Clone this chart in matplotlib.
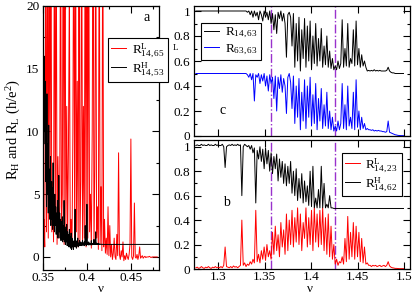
import numpy as np
import matplotlib
matplotlib.use('Agg')
import matplotlib.pyplot as plt
from matplotlib.ticker import MultipleLocator, FuncFormatter

plt.rcParams['font.family'] = ['Liberation Serif', 'DejaVu Serif']
plt.rcParams['mathtext.fontset'] = 'custom'
plt.rcParams['mathtext.rm'] = 'Liberation Serif'
plt.rcParams['mathtext.it'] = 'Liberation Serif:italic'
plt.rcParams['mathtext.bf'] = 'Liberation Serif:bold'

# ---------------- panel a data ----------------
nu_a_start, nu_a_step = 0.350, 0.001
rl_14_65 = [
    1.0, 3.0, 0.8, 25, 2.0, 30, 1.5, 28, 3.0, 30,
    2.0, 6.0, 1.2, 30, 2.5, 30, 1.0, 8.0, 1.5, 4.0,
    30, 2.0, 5.0, 30, 1.0, 30, 2.0, 12.0, 1.5, 9.0,
    22, 1.0, 3.0, 0.8, 10, 30, 1.5, 30, 2.0, 14,
    0.8, 30, 1.2, 6.0, 30, 1.0, 12, 1.5, 30, 0.8,
    30, 1.5, 30, 2.0, 5.0, 0.7, 10, 30, 1.0, 7.0,
    30, 1.5, 4.0, 0.6, 30, 1.0, 5.6, 0.5, 30, 0.8,
    3.0, 0.3, 1.5, 0.2, 4.0, 0.1, 2.5, 0.0, 1.0, -0.2,
    0.3, 1.5, 0.0, -0.2, 1.8, 0.1, 8.3, 0.2, -0.2, 0.5,
    0.0, 1.2, -0.3, 0.1, -0.2, 0.3, 0.0, -0.2, 0.2, 1.0,
    9.4, 0.0, -0.2, 0.1, 4.3, 0.0, -0.1, 0.2, -0.2, 0.1,
    0.8, -0.1, 0.0, 0.1, -0.1, 0.0, 0.05, -0.05, 0.0, 0.0,
    0.0, 0.05, 0.0, -0.05, 0.0, 0.0, 0.0, 0.0, 0.0, 0.0,
    0.0,
]
nu_h_start, nu_h_step = 0.350, 0.0005
rh_14_53 = [
    12, 17.5, 9, 16, 10, 14, 6, 11, 4, 13,
    5, 9, 3.5, 10.5, 4, 7, 3, 8, 2.5, 6,
    3, 5.5, 2.2, 7.5, 2.5, 4.5, 2, 5, 2.5, 4,
    1.8, 3.5, 2, 4.5, 1.5, 3, 6.5, 2, 3.5, 1.5,
    3, 1.3, 2.8, 1.5, 3.2, 1.2, 2.5, 1.4, 4.5, 1.2,
    2.4, 1.0, 2.2, 1.2, 2.6, 0.9, 2.0, 1.1, 1.8, 0.8,
    2.2, 0.8, 1.6, 0.7, 1.9, 0.6, 1.5, 0.8, 1.3, 0.6,
    1.2, 0.8, 1.4, 3.8, 0.8, 1.3, 0.7, 1.2, 0.9, 1.5,
    0.8, 1.1, 0.9, 1.3, 0.9, 1.0, 1.2, 0.9, 1.1, 1.0,
    1.3, 0.9, 1.1, 1.0, 1.2, 0.9, 2.5, 1.0, 1.1, 0.9,
    4.2, 1.0, 1.1, 0.95, 1.2, 1.0, 1.1, 0.95, 1.05, 1.0,
    1.3, 0.95, 1.05, 1.0, 1.1, 1.0, 1.4, 1.0, 1.05, 1.0,
    2.0, 1.0, 1.1, 1.0, 1.05, 1.0, 1.1, 1.0, 1.05, 1.0,
    1.0, 1.02, 1.0, 1.0, 1.02, 1.0, 1.0, 1.0, 1.0, 1.0,
    1.0,
]
nu_h_tail = [0.482]
rh_tail = [1.0]

# ---------------- panels b, c data ----------------
nu_r_start, nu_r_step = 1.276, 0.0015
r_14_63 = [
    1.0, 1.0, 1.0, 1.0, 1.0, 1.0, 1.0, 1.0, 1.0, 1.0,
    1.0, 1.0, 1.0, 1.0, 1.0, 1.0, 1.0, 1.0, 1.0, 1.0,
    1.0, 1.0, 1.0, 1.0, 1.0, 1.0, 1.0, 1.0, 1.0, 1.0,
    1.0, 1.0, 1.0, 1.0, 1.0, 1.0, 1.0, 0.99, 1.0, 0.97,
    1.0, 0.95, 1.0, 0.96, 0.99, 0.93, 1.0, 0.97, 0.92, 1.0,
    0.95, 0.99, 0.93, 1.0, 0.9, 0.98, 0.85, 0.97, 0.82, 0.99,
    0.94, 1.0, 0.92, 0.98, 0.9, 0.63, 0.97, 0.99, 0.95, 0.72,
    0.98, 0.55, 0.9, 0.6, 0.95, 0.52, 0.85, 0.62, 0.94, 0.55,
    0.88, 0.6, 0.92, 0.53, 0.8, 0.58, 0.9, 0.56, 0.78, 0.6,
    0.86, 0.55, 0.72, 0.57, 0.8, 0.55, 0.68, 0.54, 0.62, 0.53,
    0.56, 0.53, 0.6, 0.54, 0.58, 0.93, 0.55, 0.7, 0.56, 0.9,
    0.55, 0.62, 0.58, 0.85, 0.56, 0.92, 0.57, 0.7, 0.55, 0.65,
    0.56, 0.6, 0.55, 0.52, 0.525, 0.52, 0.525, 0.52, 0.53, 0.52,
    0.525, 0.52, 0.525, 0.52, 0.52, 0.52, 0.52, 0.525, 0.55, 0.52,
    0.51, 0.505, 0.505, 0.5, 0.5, 0.5, 0.5, 0.5, 0.5, 0.5,
]
r_63_63 = [
    0.5, 0.5, 0.5, 0.5, 0.5, 0.5, 0.5, 0.5, 0.5, 0.5,
    0.5, 0.5, 0.5, 0.5, 0.5, 0.5, 0.5, 0.5, 0.5, 0.5,
    0.5, 0.5, 0.5, 0.5, 0.5, 0.5, 0.5, 0.5, 0.5, 0.5,
    0.5, 0.5, 0.5, 0.5, 0.5, 0.5, 0.5, 0.49, 0.47, 0.5,
    0.45, 0.5, 0.28, 0.49, 0.47, 0.5, 0.42, 0.49, 0.44, 0.5,
    0.4, 0.48, 0.36, 0.49, 0.42, 0.47, 0.3, 0.48, 0.2, 0.47,
    0.38, 0.49, 0.35, 0.46, 0.4, 0.18, 0.47, 0.5, 0.43, 0.22,
    0.48, 0.1, 0.4, 0.15, 0.46, 0.05, 0.35, 0.12, 0.45, 0.06,
    0.4, 0.15, 0.47, 0.08, 0.33, 0.1, 0.42, 0.05, 0.3, 0.12,
    0.38, 0.06, 0.25, 0.08, 0.35, 0.06, 0.2, 0.05, 0.15, 0.04,
    0.08, 0.04, 0.12, 0.05, 0.1, 0.42, 0.06, 0.25, 0.05, 0.4,
    0.08, 0.15, 0.06, 0.35, 0.05, 0.45, 0.07, 0.2, 0.05, 0.15,
    0.06, 0.1, 0.05, 0.06, 0.05, 0.05, 0.045, 0.05, 0.04, 0.045,
    0.04, 0.045, 0.04, 0.04, 0.035, 0.035, 0.03, 0.035, 0.12, 0.03,
    0.025, 0.02, 0.015, 0.01, 0.008, 0.005, 0.004, 0.003, 0.003, 0.003,
]
rl_14_23 = [
    0.01, 0.015, 0.005, 0.01, 0.02, 0.01, 0.005, 0.015, 0.01, 0.02,
    0.01, 0.005, 0.015, 0.01, 0.02, 0.01, 0.015, 0.01, 0.02, 0.01,
    0.03, 0.18, 0.02, 0.015, 0.01, 0.02, 0.01, 0.025, 0.015, 0.02,
    0.01, 0.02, 0.03, 0.4, 0.03, 0.05, 0.02, 0.04, 0.03, 0.06,
    0.04, 0.08, 0.05, 0.48, 0.06, 0.12, 0.05, 0.15, 0.08, 0.18,
    0.07, 0.2, 0.1, 0.15, 0.08, 0.3, 0.12, 0.35, 0.15, 0.28,
    0.1, 0.38, 0.18, 0.32, 0.12, 0.45, 0.15, 0.4, 0.2, 0.48,
    0.18, 0.42, 0.22, 0.5, 0.2, 0.45, 0.15, 0.38, 0.25, 0.5,
    0.18, 0.42, 0.2, 0.48, 0.15, 0.5, 0.22, 0.45, 0.18, 0.48,
    0.2, 0.5, 0.15, 0.42, 0.12, 0.45, 0.1, 0.35, 0.08, 0.2,
    0.04, 0.08, 0.03, 0.06, 0.05, 0.1, 0.04, 0.25, 0.06, 0.43,
    0.08, 0.3, 0.1, 0.38, 0.08, 0.35, 0.1, 0.3, 0.06, 0.25,
    0.05, 0.18, 0.04, 0.05, 0.03, 0.03, 0.02, 0.03, 0.025, 0.03,
    0.02, 0.025, 0.03, 0.02, 0.025, 0.03, 0.02, 0.03, 0.06, 0.025,
    0.015, 0.01, 0.008, 0.005, 0.005, 0.004, 0.003, 0.003, 0.003, 0.003,
]
rh_14_62 = [
    1.01, 1.015, 1.01, 1.01, 1.02, 1.01, 1.015, 1.01, 1.01, 1.02,
    1.01, 1.015, 1.01, 1.01, 1.02, 1.01, 1.015, 1.01, 1.01, 1.02,
    1.0, 0.83, 1.0, 1.01, 1.015, 1.01, 1.02, 1.01, 1.015, 1.01,
    1.02, 1.01, 1.015, 0.6, 1.0, 1.02, 1.01, 1.0, 1.01, 0.98,
    1.01, 0.95, 0.99, 0.54, 0.97, 0.9, 1.0, 0.88, 0.98, 0.82,
    0.99, 0.86, 0.97, 0.8, 0.95, 0.78, 0.92, 0.82, 0.94, 0.72,
    0.9, 0.75, 0.88, 0.7, 0.86, 0.68, 0.84, 0.7, 0.88, 0.62,
    0.8, 0.6, 0.82, 0.56, 0.74, 0.58, 0.78, 0.54, 0.72, 0.55,
    0.68, 0.52, 0.8, 0.51, 0.84, 0.5, 0.58, 0.5, 0.65, 0.5,
    0.84, 0.5, 0.7, 0.5, 0.53, 0.5, 0.6, 0.5, 0.5, 0.495,
    0.495, 0.495, 0.495, 0.495, 0.495, 0.495, 0.495, 0.495, 0.495, 0.495,
    0.495, 0.495, 0.495, 0.495, 0.495, 0.495, 0.495, 0.495, 0.495, 0.495,
    0.495, 0.495, 0.495, 0.495, 0.495, 0.495, 0.495, 0.495, 0.495, 0.495,
    0.495, 0.495, 0.495, 0.495, 0.495, 0.495, 0.495, 0.495, 0.495, 0.495,
    0.495, 0.495, 0.495, 0.495, 0.495, 0.495, 0.495, 0.495, 0.495, 0.495,
]
vlines_nu = [1.357, 1.426]

nu_a = nu_a_start + nu_a_step * np.arange(len(rl_14_65))
nu_h = np.concatenate([nu_h_start + nu_h_step * np.arange(len(rh_14_53)), nu_h_tail])
rh_a = np.concatenate([rh_14_53, rh_tail])
nu_r = nu_r_start + nu_r_step * np.arange(len(r_14_63))

fmt = FuncFormatter(lambda v, p: '%g' % round(v, 3))

W, H = 415, 296
fig = plt.figure(figsize=(W / 100, H / 100), dpi=100)
axA = fig.add_axes([43 / W, 1 - 270 / H, 116 / W, 264 / H])
axC = fig.add_axes([194 / W, 1 - 136 / H, 216 / W, 130 / H])
axB = fig.add_axes([194 / W, 1 - 269 / H, 216 / W, 129 / H])

lw = 0.7
leg_kw = dict(borderaxespad=0, fontsize=9.5, handlelength=1.15, handletextpad=0.4,
              borderpad=0.25, fancybox=False, framealpha=1, edgecolor='black')

# panel a
axA.plot(nu_a, rl_14_65, color='#ff0000', lw=lw, label=r'R$^{\rm L}_{\rm 14,65}$')
axA.plot(nu_h, rh_a, color='black', lw=lw, label=r'R$^{\rm H}_{\rm 14,53}$')
axA.set_xlim(0.35, 0.482)
axA.set_ylim(-1.04, 20)
axA.xaxis.set_major_locator(MultipleLocator(0.05))
axA.xaxis.set_minor_locator(MultipleLocator(0.025))
axA.yaxis.set_major_locator(MultipleLocator(5))
axA.yaxis.set_minor_locator(MultipleLocator(2.5))
axA.xaxis.set_major_formatter(fmt)
axA.yaxis.set_major_formatter(fmt)
axA.text(0.897, 0.955, 'a', transform=axA.transAxes, fontsize=10, ha='center', va='center')
legA = axA.legend(loc='upper left', bbox_to_anchor=(0.56, 0.879), labelspacing=0.1, **leg_kw)
legA.get_frame().set_linewidth(0.8)

# panel c
axC.plot(nu_r, r_14_63, color='black', lw=lw, label=r'R$_{\rm 14,63}$')
axC.plot(nu_r, r_63_63, color='#0000ff', lw=lw, label=r'R$_{\rm 63,63}$')
axC.set_ylim(0, 1.04)
axC.text(0.134, 0.2, 'c', transform=axC.transAxes, fontsize=10, ha='center', va='center')
legC = axC.legend(loc='upper left', bbox_to_anchor=(0.032, 0.872), labelspacing=0.2, **leg_kw)
legC.get_frame().set_linewidth(0.8)

# panel b
axB.plot(nu_r, rl_14_23, color='#ff0000', lw=lw, label=r'R$^{\rm L}_{\rm 14,23}$')
axB.plot(nu_r, rh_14_62, color='black', lw=lw, label=r'R$^{\rm H}_{\rm 14,62}$')
axB.set_ylim(0, 1.055)
axB.text(0.151, 0.512, 'b', transform=axB.transAxes, fontsize=10, ha='center', va='center')
legB = axB.legend(loc='upper left', bbox_to_anchor=(0.684, 0.9016), labelspacing=0.1, **leg_kw)
legB.get_frame().set_linewidth(0.8)

for ax in (axC, axB):
    for v in vlines_nu:
        ax.axvline(v, color='#9932cc', ls='-.', lw=1.0, zorder=1)
    ax.set_xlim(1.274, 1.5065)
    ax.xaxis.set_major_locator(MultipleLocator(0.05))
    ax.yaxis.set_major_locator(MultipleLocator(0.2))
    ax.yaxis.set_minor_locator(MultipleLocator(0.1))
    ax.xaxis.set_major_formatter(fmt)
    ax.yaxis.set_major_formatter(fmt)
axC.tick_params(axis='x', labelbottom=False)

for ax in (axA, axB, axC):
    ax.tick_params(which='both', direction='in', top=True, right=True, labelsize=9.5, pad=2.5)
    ax.tick_params(axis='x', which='both', pad=1.5)
    ax.tick_params(which='major', length=5, width=0.8)
    ax.tick_params(which='minor', length=2.5, width=0.8)
    for s in ax.spines.values():
        s.set_linewidth(0.9)

# axis titles
fig.text(101 / W, 1 - 289 / H, 'ν', fontsize=9.5, ha='center', va='center')
fig.text(310 / W, 1 - 289 / H, 'ν', fontsize=9.5, ha='center', va='center')
fig.text(0.0325, 0.5625, r'R$_{\rm H}$ and R$_{\rm L}$ (h/e$^{2}$)', rotation=90,
         fontsize=10.5, ha='center', va='center')
fig.text(175 / W, 1 - 48 / H, 'L', fontsize=6.5, ha='center', va='center')

fig.savefig('out.png', dpi=100)
